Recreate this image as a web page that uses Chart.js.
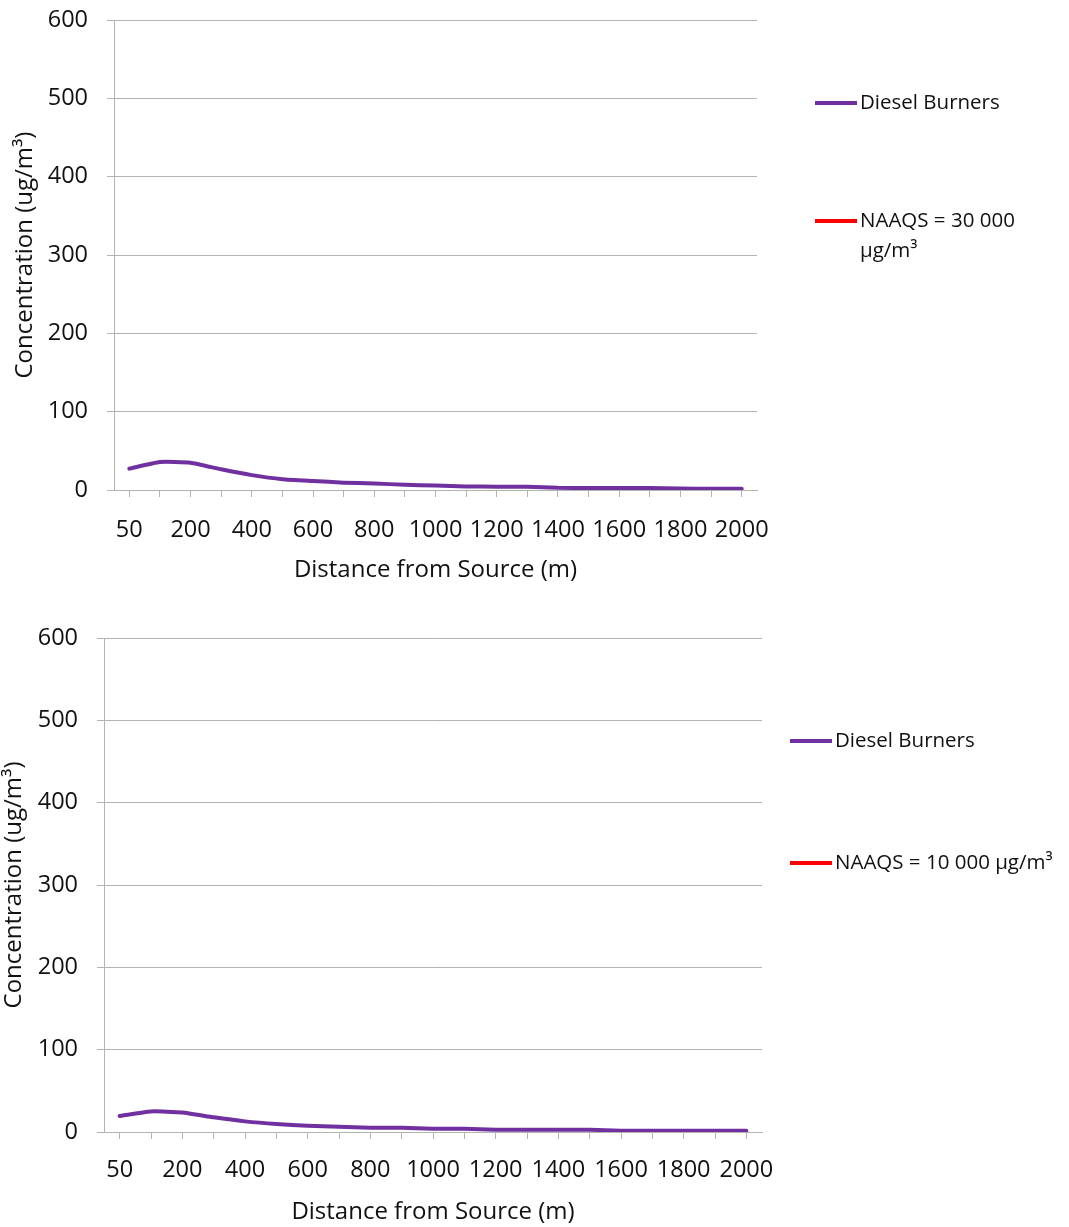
<!DOCTYPE html>
<html>
<head>
<meta charset="utf-8">
<script src="https://cdn.jsdelivr.net/npm/chart.js@4.4.1/dist/chart.umd.min.js"></script>
<style>
  html, body { margin: 0; padding: 0; background: #ffffff; }
  body { width: 1069px; height: 1227px; position: relative; overflow: hidden; font-family: "Open Sans", sans-serif; }
  canvas { position: absolute; left: 0; }
  .legend { position: absolute; font-family: "Open Sans", sans-serif; font-size: 20.5px; color: #111111; }
  .item { position: absolute; display: flex; align-items: flex-start; white-space: normal; }
  .swatch { width: 42px; height: 4px; margin-top: 11px; margin-right: 3px; flex: none; }
  .label { line-height: 30px; margin-top: -4px; }
</style>
</head>
<body>
<canvas id="chartTop" width="1069" height="613" style="top:-13px"></canvas>
<canvas id="chartBottom" width="1069" height="627" style="top:600px"></canvas>
<div id="legendTop" class="legend"></div>
<div id="legendBottom" class="legend"></div>
<script>
// Downwind distances (m)
const distances = ['50', '100', '200', '300', '400', '500', '600', '700', '800', '900', '1000',
                   '1100', '1200', '1300', '1400', '1500', '1600', '1700', '1800', '1900', '2000'];

// Diesel burner concentrations, upper panel (ug/m3)
const dieselTop = [27.3, 35.7, 34.9, 26.4, 19.0, 13.8, 11.5, 9.4, 8.2, 6.8, 5.6,
                   4.4, 4.3, 4.2, 2.8, 2.7, 2.7, 2.6, 1.8, 1.7, 1.6];
// Diesel burner concentrations, lower panel (ug/m3)
const dieselBottom = [19.4, 25.0, 23.8, 17.8, 12.9, 9.7, 7.7, 6.4, 5.2, 5.2, 4.0,
                      4.0, 2.8, 2.8, 2.8, 2.8, 1.6, 1.5, 1.5, 1.5, 1.5];

// NAAQS limits (ug/m3) – far above the plotted range
const naaqsTop = [30000, 30000, 30000, 30000, 30000, 30000, 30000, 30000, 30000, 30000, 30000,
                  30000, 30000, 30000, 30000, 30000, 30000, 30000, 30000, 30000, 30000];
const naaqsBottom = [10000, 10000, 10000, 10000, 10000, 10000, 10000, 10000, 10000, 10000, 10000,
                     10000, 10000, 10000, 10000, 10000, 10000, 10000, 10000, 10000, 10000];

const seriesNames = ['Diesel Burners'];
const naaqsNameTop = 'NAAQS = 30 000 µg/m³';
const naaqsNameBottom = 'NAAQS = 10 000 µg/m³';

const yTicks = [0, 100, 200, 300, 400, 500, 600];

const PURPLE = '#7030A0';
const RED = '#FF0000';
const GRID = '#B3B3B3';
const TEXT = '#111111';
const FONT = '"Open Sans", sans-serif';

function makeChart(canvasId, diesel, naaqs, naaqsName, geo) {
  const ctx = document.getElementById(canvasId);
  return new Chart(ctx, {
    type: 'line',
    data: {
      labels: distances,
      datasets: [
        { label: seriesNames[0], data: diesel, borderColor: PURPLE, backgroundColor: PURPLE,
          borderWidth: 4, pointRadius: 0, tension: 0.15, borderCapStyle: 'round' },
        { label: naaqsName, data: naaqs, borderColor: RED, backgroundColor: RED,
          borderWidth: 4, pointRadius: 0, tension: 0 }
      ]
    },
    options: {
      responsive: false,
      animation: false,
      events: [],
      layout: { padding: { top: geo.top, right: geo.right, left: 0, bottom: 0 } },
      plugins: { legend: { display: false }, tooltip: { enabled: false } },
      scales: {
        x: {
          type: 'category',
          offset: true,
          grid: { display: true, drawOnChartArea: false, offset: false, color: GRID,
                  tickLength: 7, tickColor: GRID },
          border: { display: true, color: GRID, width: 1 },
          ticks: {
            autoSkip: false, maxRotation: 0, minRotation: 0,
            color: TEXT, padding: geo.xTickPad,
            font: { family: FONT, size: 23.5 },
            callback: (v, i) => (i % 2 === 0 ? distances[i] : '')
          },
          title: { display: true, text: 'Distance from Source (m)', color: TEXT,
                   font: { family: FONT, size: 24 }, padding: { top: 0, bottom: geo.xTitlePad } },
          afterFit: s => { s.height = geo.xHeight; }
        },
        y: {
          min: 0, max: 600,
          afterBuildTicks: s => { s.ticks = yTicks.map(v => ({ value: v })); },
          grid: { color: GRID, tickLength: 7, tickColor: GRID, lineWidth: 1 },
          border: { display: true, color: GRID, width: 1 },
          ticks: { color: TEXT, padding: 19, font: { family: FONT, size: 23.5 } },
          title: { display: true, text: 'Concentration (ug/m³)', color: TEXT,
                   font: { family: FONT, size: 24 }, padding: { top: geo.yTitlePad, bottom: 0 } },
          afterFit: s => { s.width = geo.yWidth; }
        }
      }
    }
  });
}

function buildLegend(chart, el, pos) {
  el.style.left = pos.left + 'px';
  el.style.top = pos.top + 'px';
  chart.data.datasets.forEach((ds, i) => {
    const item = document.createElement('div');
    item.className = 'item';
    item.style.top = pos.rows[i] + 'px';
    item.style.width = pos.width + 'px';
    const sw = document.createElement('div');
    sw.className = 'swatch';
    sw.style.background = ds.borderColor;
    const lb = document.createElement('div');
    lb.className = 'label';
    lb.textContent = ds.label;
    item.appendChild(sw);
    item.appendChild(lb);
    el.appendChild(item);
  });
}

const upperChart = makeChart('chartTop', dieselTop, naaqsTop, naaqsNameTop,
  { top: 32, right: 312, yWidth: 114, xHeight: 110, xTickPad: 19, xTitlePad: 15, yTitlePad: 11 });
const lowerChart = makeChart('chartBottom', dieselBottom, naaqsBottom, naaqsNameBottom,
  { top: 38, right: 307, yWidth: 104, xHeight: 95, xTickPad: 17, xTitlePad: 0, yTitlePad: 0 });

buildLegend(upperChart, document.getElementById('legendTop'), { left: 815, top: 90, width: 215, rows: [0, 118] });
buildLegend(lowerChart, document.getElementById('legendBottom'), { left: 790, top: 728, width: 290, rows: [0, 122] });
</script>
</body>
</html>
